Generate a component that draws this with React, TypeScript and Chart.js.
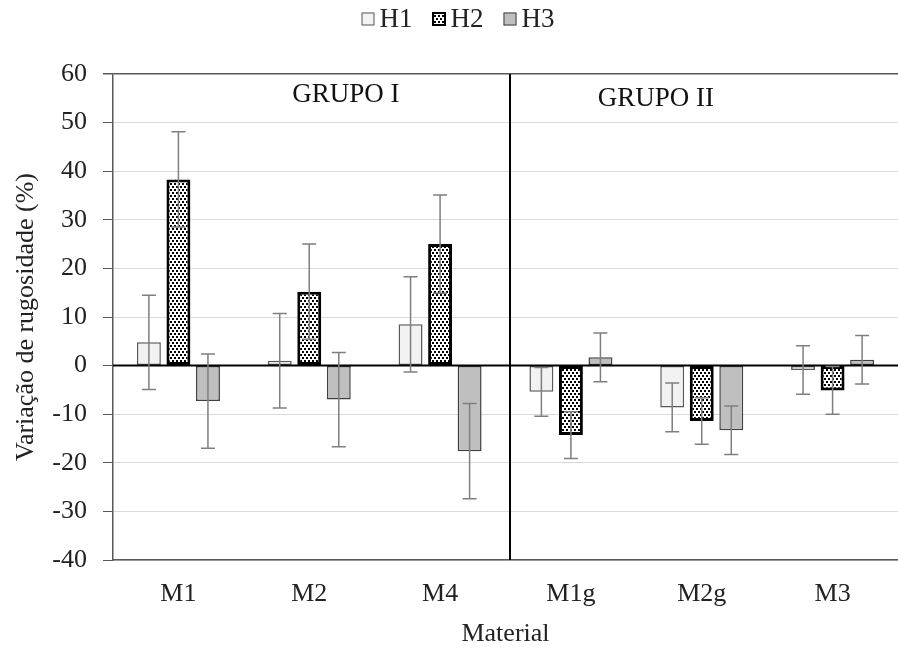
import React, { useEffect, useRef } from "react";
import { Chart, registerables } from "chart.js";

Chart.register(...registerables);

const categories = ["M1", "M2", "M4", "M1g", "M2g", "M3"];
const seriesNames = ["H1", "H2", "H3"];
const h1Values = [4.8, 1.0, 8.5, -5.4, -8.6, -0.9];
const h2Values = [38.3, 15.2, 25.0, -14.3, -11.4, -5.1];
const h3Values = [-7.3, -7.0, -17.6, 1.7, -13.3, 1.2];
const h1Errors = [9.7, 9.7, 9.8, 5.0, 5.0, 5.0];
const h2Errors = [9.8, 9.8, 10.1, 4.8, 4.8, 4.9];
const h3Errors = [9.7, 9.7, 9.8, 5.0, 5.0, 5.0];
const yMin = -40;
const yMax = 60;
const yStep = 10;
const groupLabels = ["GRUPO I", "GRUPO II"];
const groupLabelX = [1.28, 3.65];
const groupLabelY = [55.6, 54.8];
const yTitle = "Variação de rugosidade (%)";
const xTitle = "Material";

const FONT = "'Liberation Serif', 'Times New Roman', serif";

function makeDotPattern(): CanvasPattern | string {
  const c = document.createElement("canvas");
  c.width = 4;
  c.height = 6;
  const g = c.getContext("2d");
  if (!g) return "#000";
  g.fillStyle = "#ffffff";
  g.fillRect(0, 0, 4, 6);
  g.fillStyle = "#000000";
  g.fillRect(0, 0, 2, 2);
  g.fillRect(2, 3, 2, 2);
  const ctx = document.createElement("canvas").getContext("2d");
  const p = ctx ? ctx.createPattern(c, "repeat") : null;
  return p || "#000";
}

export default function App() {
  const canvasRef = useRef<HTMLCanvasElement | null>(null);

  useEffect(() => {
    const canvas = canvasRef.current;
    if (!canvas) return;
    const pattern = makeDotPattern();
    const errors = [h1Errors, h2Errors, h3Errors];
    const fills: any[] = ["#f2f2f2", pattern, "#bfbfbf"];
    const borders = ["#595959", "#000000", "#404040"];
    const borderWidths = [1.5, 3, 1.5];

    const overlayPlugin = {
      id: "overlay",
      afterDatasetsDraw(chart: any) {
        const { ctx, chartArea, scales } = chart;
        const xs = scales.x;
        const ys = scales.y;
        ctx.save();
        const y0 = ys.getPixelForValue(0);
        ctx.strokeStyle = "#000";
        ctx.lineWidth = 2;
        ctx.beginPath();
        ctx.moveTo(chartArea.left, y0);
        ctx.lineTo(chartArea.right, y0);
        ctx.stroke();
        const xd = (xs.getPixelForValue(2) + xs.getPixelForValue(3)) / 2 + 4.5;
        ctx.beginPath();
        ctx.moveTo(xd, chartArea.top);
        ctx.lineTo(xd, chartArea.bottom);
        ctx.stroke();
        ctx.strokeStyle = "#7f7f7f";
        ctx.lineWidth = 1.5;
        chart.data.datasets.forEach((ds: any, i: number) => {
          const meta = chart.getDatasetMeta(i);
          meta.data.forEach((el: any, j: number) => {
            const v = ds.data[j];
            const e = errors[i][j];
            const yt = ys.getPixelForValue(v + e);
            const yb = ys.getPixelForValue(v - e);
            const x = el.x;
            ctx.beginPath();
            ctx.moveTo(x, yt);
            ctx.lineTo(x, yb);
            ctx.moveTo(x - 7, yt);
            ctx.lineTo(x + 7, yt);
            ctx.moveTo(x - 7, yb);
            ctx.lineTo(x + 7, yb);
            ctx.stroke();
          });
        });
        ctx.fillStyle = "#111";
        ctx.font = `27px ${FONT}`;
        ctx.textAlign = "center";
        ctx.textBaseline = "middle";
        groupLabels.forEach((t, k) => {
          ctx.fillText(t, xs.getPixelForValue(groupLabelX[k]), ys.getPixelForValue(groupLabelY[k]));
        });
        ctx.restore();
      },
      afterDraw(chart: any) {
        const { ctx } = chart;
        ctx.save();
        ctx.font = `27px ${FONT}`;
        ctx.textBaseline = "middle";
        ctx.textAlign = "left";
        const box = 13;
        const gap = 5;
        const itemGap = 20;
        const widths = seriesNames.map((n) => ctx.measureText(n).width);
        const total = widths.reduce((a, w) => a + box + gap + w, 0) + itemGap * (seriesNames.length - 1);
        let x = chart.width / 2 + 9 - total / 2;
        const cy = 19;
        seriesNames.forEach((n, i) => {
          ctx.fillStyle = fills[i];
          ctx.fillRect(x, cy - box / 2, box, box);
          ctx.strokeStyle = borders[i];
          ctx.lineWidth = i === 1 ? 2 : 1;
          ctx.strokeRect(x + 0.5, cy - box / 2 + 0.5, box - 1, box - 1);
          ctx.fillStyle = "#222";
          ctx.fillText(n, x + box + gap, cy + 1);
          x += box + gap + widths[i] + itemGap;
        });
        ctx.restore();
      },
    };

    const chart = new Chart(canvas, {
      type: "bar",
      data: {
        labels: categories,
        datasets: [h1Values, h2Values, h3Values].map((vals, i) => ({
          label: seriesNames[i],
          data: vals,
          backgroundColor: fills[i],
          borderColor: borders[i],
          borderWidth: borderWidths[i],
          borderSkipped: false,
          categoryPercentage: 0.677,
          barPercentage: 0.81,
        })),
      },
      options: {
        animation: false,
        responsive: false,
        layout: { padding: { top: 74, left: 0, right: 0, bottom: 0 } },
        plugins: {
          legend: { display: false },
          tooltip: { enabled: false },
        },
        scales: {
          x: {
            grid: { display: false, drawTicks: false },
            border: { display: true, color: "#595959", width: 1.5 },
            ticks: { color: "#222", font: { family: FONT, size: 26 }, padding: 19 },
            title: {
              display: true,
              text: xTitle,
              color: "#222",
              font: { family: FONT, size: 26 },
              padding: { top: 3, bottom: 0 },
            },
            afterFit(scale: any) {
              scale.height = 90;
            },
          },
          y: {
            min: yMin,
            max: yMax,
            ticks: {
              stepSize: yStep,
              color: "#222",
              font: { family: FONT, size: 26 },
              padding: 16,
            },
            grid: {
              color: (c: any) =>
                c.tick && c.tick.value === yMax ? "#595959" : c.tick && c.tick.value === 0 ? "rgba(0,0,0,0)" : "#d9d9d9",
              lineWidth: (c: any) => (c.tick && c.tick.value === yMax ? 1.5 : 1),
              tickColor: "#595959",
              tickLength: 10,
            },
            border: { display: true, color: "#595959", width: 1.5 },
            title: {
              display: true,
              text: yTitle,
              color: "#222",
              font: { family: FONT, size: 26 },
              padding: { top: 11, bottom: 0 },
            },
            afterFit(scale: any) {
              scale.width = 113;
            },
          },
        },
      },
      plugins: [overlayPlugin],
    });
    return () => chart.destroy();
  }, []);

  return (
    <div style={{ position: "fixed", left: 0, top: 0, width: 898, height: 650, background: "#fff" }}>
      <canvas ref={canvasRef} width={898} height={650} style={{ display: "block" }} />
    </div>
  );
}
